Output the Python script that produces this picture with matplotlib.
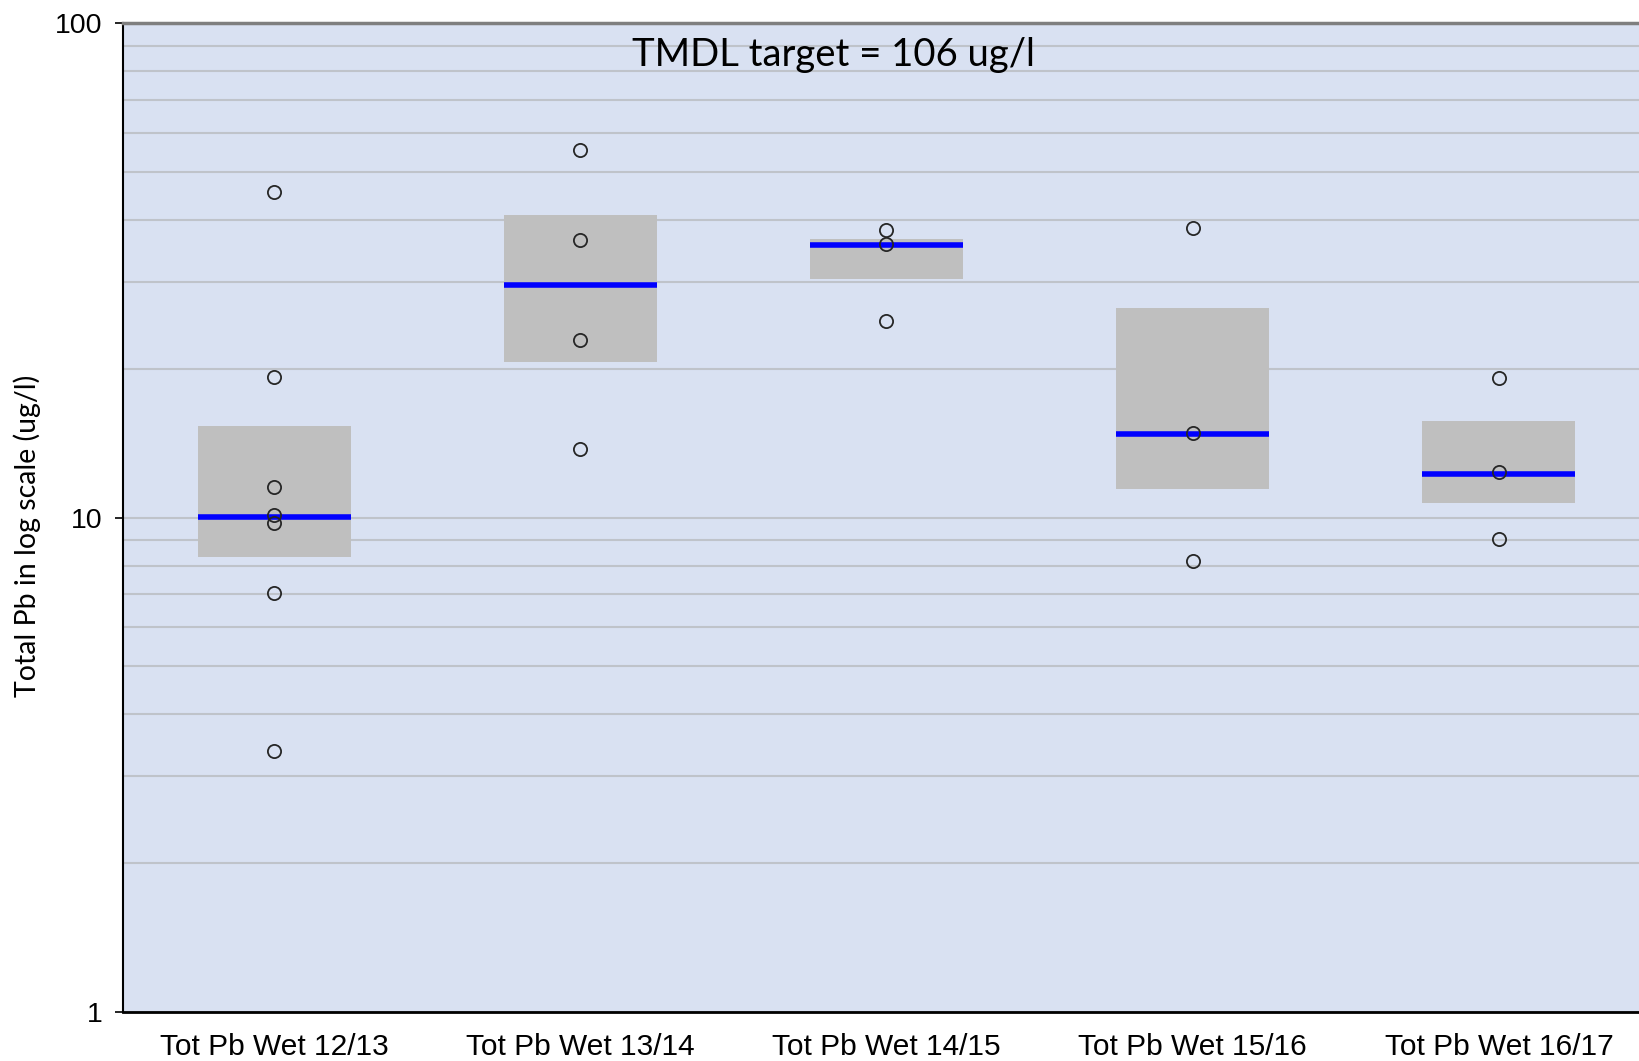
import matplotlib
matplotlib.use("Agg")
import matplotlib.pyplot as plt
from matplotlib.ticker import LogLocator, FixedLocator, NullFormatter

categories = ["Tot Pb Wet 12/13", "Tot Pb Wet 13/14", "Tot Pb Wet 14/15",
              "Tot Pb Wet 15/16", "Tot Pb Wet 16/17"]
q1_values = [8.34, 20.6, 30.4, 11.45, 10.69]
q3_values = [15.33, 41.0, 36.7, 26.6, 15.69]
median_values = [10.05, 29.5, 35.6, 14.77, 12.26]
points_1213 = [45.5, 19.26, 11.52, 10.14, 9.74, 7.03, 3.37]
points_1314 = [55.5, 36.5, 22.9, 13.77]
points_1415 = [38.1, 35.7, 25.0]
points_1516 = [38.6, 14.86, 8.17]
points_1617 = [19.14, 12.36, 9.06]
all_points = [points_1213, points_1314, points_1415, points_1516, points_1617]
annotation = "TMDL target = 106 ug/l"
ylabel = "Total Pb in log scale (ug/l)"

W, H = 1640, 1061
fig = plt.figure(figsize=(W / 100, H / 100), dpi=100)
left = 123.4 / W
right = 1656 / W
top = 1 - 23.3 / H
bottom = 1 - 1012 / H
ax = fig.add_axes([left, bottom, right - left, top - bottom])
ax.set_facecolor("#D9E1F2")

ax.set_yscale("log")
ax.set_ylim(1, 100)
ax.set_xlim(-0.492, 4.513)

# grid
ax.yaxis.set_major_locator(FixedLocator([1, 10, 100]))
ax.yaxis.set_minor_locator(LogLocator(base=10, subs=range(2, 10)))
ax.yaxis.set_minor_formatter(NullFormatter())
ax.grid(axis="y", which="both", color="#BFC3CA", lw=1.5, zorder=0)
ax.set_axisbelow(True)

x = list(range(len(categories)))
ax.bar(x, [q3 - q1 for q1, q3 in zip(q1_values, q3_values)], bottom=q1_values,
       width=0.5, color="#BFBFBF", zorder=2)
for xi, med in zip(x, median_values):
    ax.hlines(med, xi - 0.25, xi + 0.25, color="#0000FF", lw=4, zorder=3)
for xi, pts in zip(x, all_points):
    ax.plot([xi] * len(pts), pts, linestyle="none", marker="o", ms=9.5,
            mfc="none", mec="#262626", mew=1.3, zorder=4)

ax.set_xticks(x)
ax.set_xticklabels(categories, family="Liberation Sans", fontsize=21.5)
ax.tick_params(axis="x", length=0, pad=15)
ax.set_yticks([1, 10, 100])
ax.set_yticklabels(["1", "10", "100"], family="Liberation Sans", fontsize=20.5)
ax.tick_params(axis="y", which="major", length=6, width=1.2, pad=9, direction="out")
ax.tick_params(axis="y", which="minor", length=0)

for s in ["left", "bottom"]:
    ax.spines[s].set_color("black")
    ax.spines[s].set_linewidth(1.5)
ax.spines["bottom"].set_linewidth(2)
ax.spines["top"].set_color("#7F7F7F")
ax.spines["top"].set_linewidth(2.5)
ax.spines["right"].set_visible(False)

fig.text(27 / W, 1 - 536 / H, ylabel, rotation=90, ha="center", va="center",
         family="Lato", fontsize=20.5, color="black")
ax.text(834 / W, 1 - 55 / H, annotation, transform=fig.transFigure,
        ha="center", va="center", family="Lato", fontsize=27.5, color="black")

fig.savefig("out.png", dpi=100)
